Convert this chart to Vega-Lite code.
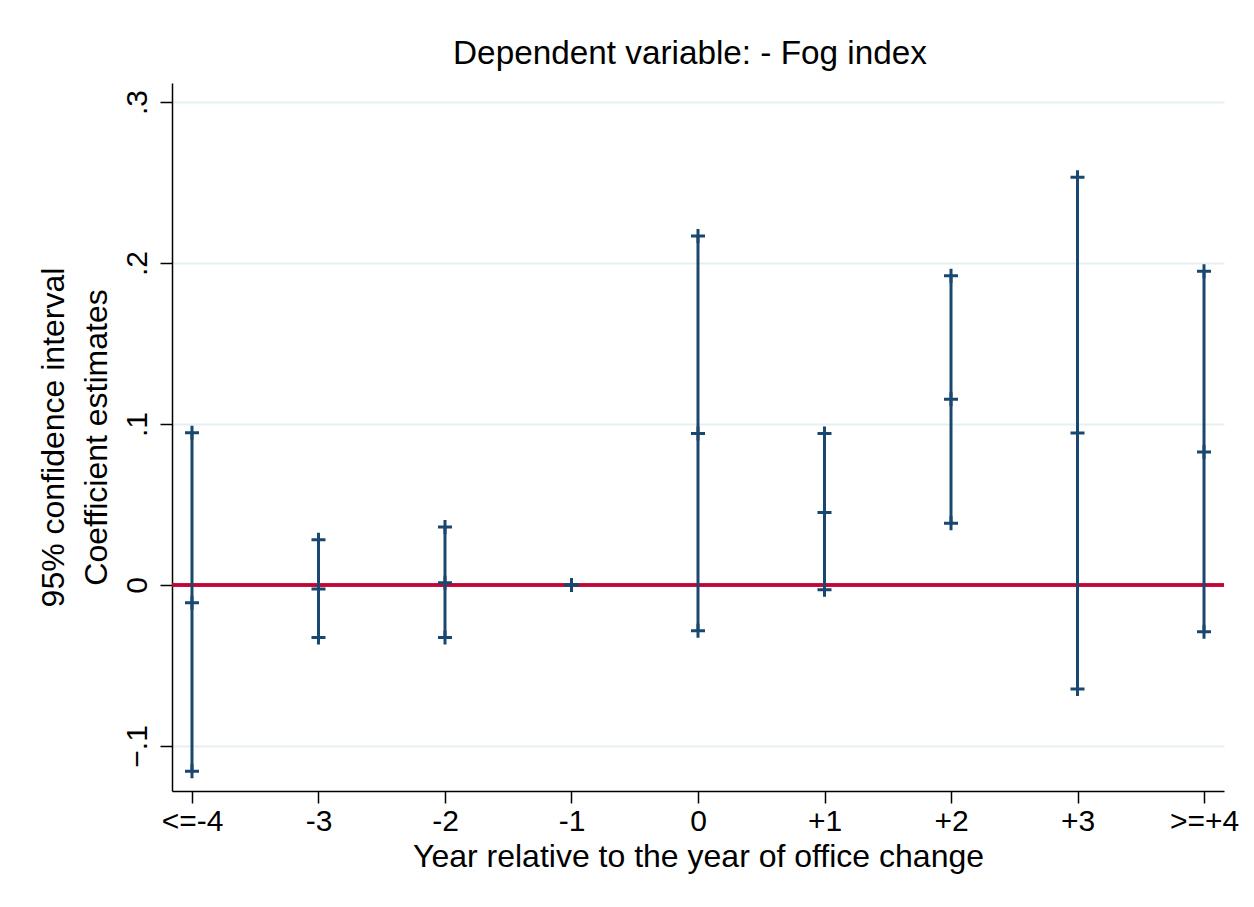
{
  "$schema": "https://vega.github.io/schema/vega-lite/v6.json",
  "autosize": "none",
  "width": 1052,
  "height": 708,
  "padding": {"left": 172, "top": 83, "right": 30, "bottom": 116},
  "background": "white",
  "config": {
    "font": "Liberation Sans",
    "view": {"stroke": null}
  },
  "title": {
    "text": "Dependent variable: - Fog index",
    "fontSize": 33.3,
    "fontWeight": "normal",
    "font": "Liberation Sans",
    "color": "black",
    "anchor": "middle",
    "frame": "group",
    "baseline": "alphabetic",
    "offset": 17,
    "dx": -8,
    "dy": 31
  },
  "data": {
    "values": [
      {"period": "<=-4", "est": -0.011, "lo": -0.1157, "hi": 0.0945},
      {"period": "-3", "est": -0.0025, "lo": -0.0327, "hi": 0.028},
      {"period": "-2", "est": 0.0014, "lo": -0.0327, "hi": 0.036},
      {"period": "-1", "est": 0, "lo": 0, "hi": 0},
      {"period": "0", "est": 0.094, "lo": -0.0284, "hi": 0.2168},
      {"period": "+1", "est": 0.045, "lo": -0.003, "hi": 0.094},
      {"period": "+2", "est": 0.1153, "lo": 0.0383, "hi": 0.192},
      {"period": "+3", "est": 0.0944, "lo": -0.0646, "hi": 0.2532},
      {"period": ">=+4", "est": 0.0826, "lo": -0.029, "hi": 0.1948}
    ]
  },
  "encoding": {
    "x": {
      "field": "period",
      "type": "ordinal",
      "sort": null,
      "scale": {"type": "point", "padding": 0.158},
      "axis": {
        "title": "Year relative to the year of office change",
        "titleFontSize": 32,
        "titleFontWeight": "normal",
        "titleColor": "black",
        "titlePadding": 5,
        "labelFontSize": 30,
        "labelColor": "black",
        "labelAngle": 0,
        "labelPadding": 3,
        "labelBaseline": "top",
        "tickSize": 12,
        "tickColor": "black",
        "tickWidth": 1.5,
        "domainColor": "black",
        "domainWidth": 1.5,
        "grid": false
      }
    }
  },
  "layer": [
    {
      "mark": {"type": "rule", "color": "#C10534", "strokeWidth": 2.5},
      "encoding": {
        "x": null,
        "y": {
          "datum": 0,
          "type": "quantitative",
          "scale": {"domain": [-0.128, 0.3118], "nice": false, "zero": false},
          "axis": {
            "title": ["95% confidence interval", "Coefficient estimates"],
            "titleFontSize": 32,
            "titleFontWeight": "normal",
            "titleColor": "black",
            "titleLineHeight": 43,
            "titlePadding": 9,
            "values": [-0.1, 0, 0.1, 0.2, 0.3],
            "labelExpr": "replace(format(datum.value, '~g'), '0.', '.')",
            "labelFontSize": 30,
            "labelColor": "black",
            "labelAngle": -90,
            "labelAlign": "center",
            "labelBaseline": "alphabetic",
            "labelPadding": 14,
            "tickSize": 12,
            "tickColor": "black",
            "tickWidth": 1.5,
            "domainColor": "black",
            "domainWidth": 1.5,
            "grid": true,
            "gridColor": "#E6F0F1",
            "gridWidth": 2
          }
        }
      }
    },
    {
      "mark": {"type": "rule", "color": "#1A476F", "strokeWidth": 3},
      "encoding": {
        "y": {"field": "lo", "type": "quantitative"},
        "y2": {"field": "hi"}
      }
    },
    {
      "mark": {"type": "point", "shape": "M-1,0H1M0,-1V1", "size": 196, "filled": false, "stroke": "#1A476F", "strokeWidth": 3, "opacity": 1},
      "encoding": {"y": {"field": "hi", "type": "quantitative"}}
    },
    {
      "mark": {"type": "point", "shape": "M-1,0H1M0,-1V1", "size": 196, "filled": false, "stroke": "#1A476F", "strokeWidth": 3, "opacity": 1},
      "encoding": {"y": {"field": "est", "type": "quantitative"}}
    },
    {
      "mark": {"type": "point", "shape": "M-1,0H1M0,-1V1", "size": 196, "filled": false, "stroke": "#1A476F", "strokeWidth": 3, "opacity": 1},
      "encoding": {"y": {"field": "lo", "type": "quantitative"}}
    }
  ]
}
